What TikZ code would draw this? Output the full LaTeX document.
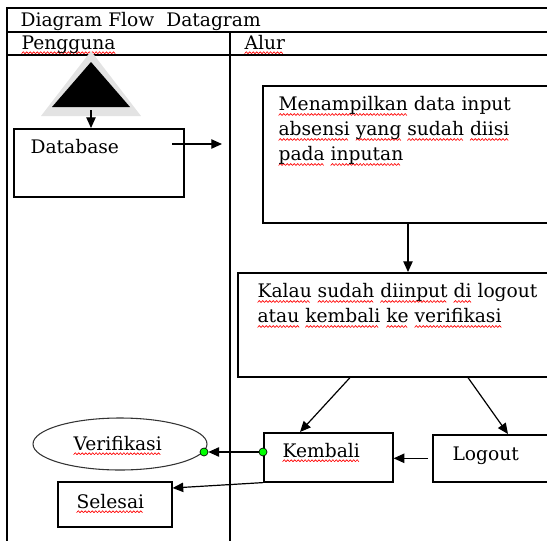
\documentclass[tikz,border=0pt]{standalone}
\usepackage{fontspec}
\setmainfont{DejaVu Serif}
\usetikzlibrary{shapes.geometric, positioning, arrows.meta, calc}
\newsavebox\wavebox
\newsavebox\wordbox
\newcommand\typo[1]{\sbox\wordbox{#1}\rlap{\raisebox{-3.5pt}{\hbox to \wd\wordbox{\leaders\copy\wavebox\hfill}}}\usebox\wordbox} % red wavy underline
\tikzset{
x=0.75pt, y=-0.75pt, % one unit is one pixel, y runs down
>={Triangle[length=8pt, width=7pt]}, % solid arrow heads
box/.style={draw, line width=1.2pt, inner sep=0pt, anchor=north west}, % plain boxes
txt/.style={inner sep=0pt, anchor=north west, align=left, font=\fontsize{14}{18.75}\selectfont}, % texts
lbl/.style={inner sep=0pt, anchor=base west, font=\fontsize{14}{18.75}\selectfont}, % one line texts
dot/.style={circle, draw, line width=0.5pt, fill=green, inner sep=0pt, minimum size=6pt},
lane/.style={line width=1.3pt},
}
\begin{document}
\sbox\wavebox{\begin{pgfpicture}
\pgfpathrectangle{\pgfpoint{0pt}{0pt}}{\pgfpoint{2.6pt}{1.4pt}}
\pgfusepath{use as bounding box}
\pgfsetlinewidth{0.5pt}
\pgfsetstrokecolor{red}
\pgfpathmoveto{\pgfpoint{0pt}{0pt}}
\pgfpathlineto{\pgfpoint{1.3pt}{1.4pt}}
\pgfpathlineto{\pgfpoint{2.6pt}{0pt}}
\pgfusepath{stroke}
\end{pgfpicture}}%
\begin{tikzpicture}[line width=0.9pt]
\useasboundingbox (0,0) rectangle (547,540);
\clip (0,0) rectangle (547,540);
% swim lanes
\draw[lane] (7,560) -- (7,8) -- (560,8);
\draw[lane] (7,32) -- (560,32);
\draw[lane] (7,55) -- (560,55);
\draw[lane] (230,32) -- (230,560);
\node[lbl] (title) at (20,26) {Diagram Flow\ \ Datagram};
\node[lbl] (lane1) at (21,49) {\typo{Pengguna}};
\node[lbl] (lane2) at (244,49) {\typo{Alur}};
% start
\fill[gray!22] (91,51) -- (141,116) -- (41,116) -- cycle;
\fill (91,62) -- (130,107) -- (52,107) -- cycle;
\coordinate (start) at (91,110);
% boxes
\node[box, minimum width=127.5pt, minimum height=51pt] (db) at (13,128) {};
\node[lbl] (db-t) at (30,153) {Database};
\node[box, minimum width=253.5pt, minimum height=102.75pt] (show) at (262,85) {};
\node[txt] (show-t) at (278,96) {\typo{Menampilkan} data input\\ \typo{absensi} \typo{yang} \typo{sudah} \typo{diisi}\\ \typo{pada} \typo{inputan}};
\node[box, minimum width=272.25pt, minimum height=78pt] (check) at (237,272) {};
\node[txt] (check-t) at (257,283) {\typo{Kalau} \typo{sudah} \typo{diinput} \typo{di} logout\\ \typo{atau} \typo{kembali} \typo{ke} \typo{verifikasi}};
\node[box, minimum width=96.75pt, minimum height=36.75pt] (kembali) at (263,432) {};
\node[lbl] (kembali-t) at (282,457) {\typo{Kembali}};
\node[box, minimum width=126pt, minimum height=35.25pt] (logout) at (432,434) {};
\node[lbl] (logout-t) at (452,460) {Logout};
\node[box, ellipse, line width=0.8pt, draw=black!80, anchor=center, minimum width=130.5pt, minimum height=39pt] (verif) at (120,444) {};
\node[lbl] (verif-t) at (73,450) {\typo{Verifikasi}};
\node[box, minimum width=85.5pt, minimum height=33.75pt] (selesai) at (57,481) {};
\node[lbl] (selesai-t) at (76,508) {\typo{Selesai}};
\node[dot] (kdot) at (263,452) {};
\node[dot] (vdot) at (204,452) {};
\coordinate (db-out) at (172,144);
\coordinate (db-end) at (222,144);
% arrows
\draw[->] (start) -- (start |- db.north);
\draw[->] (db-out) -- (db-end);
\draw[->] ($(show.south west)+(146,0)$) coordinate (s1) -- (s1 |- check.north);
\draw[->] ($(check.south west)+(113,0)$) -- ($(kembali.north west)+(37,0)$);
\draw[->] ($(check.south west)+(231,0)$) -- ($(logout.north west)+(76,0)$);
\draw[->] ([xshift=-3pt]logout.west) -- (logout.west -| kembali.east);
\draw[->] (kdot) -- (vdot);
\draw[->] (kembali.south west) -- ($(selesai.north east)+(0,7)$);
\end{tikzpicture}
\end{document}
